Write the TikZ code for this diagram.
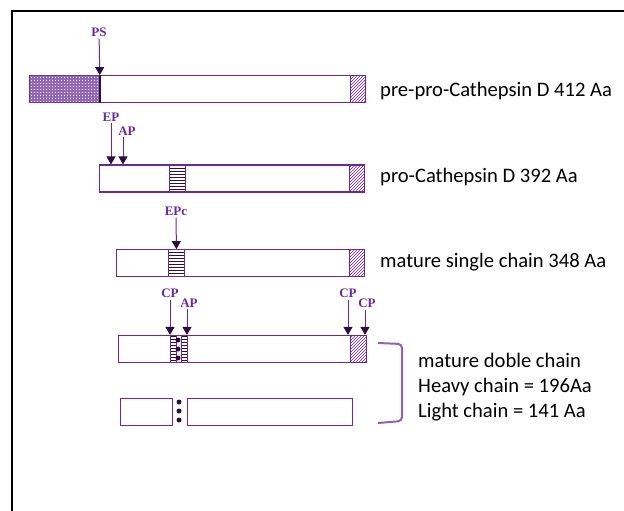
\documentclass[tikz,border=0pt]{standalone}
\usepackage{fontspec}
\usepackage{tikz}
\usetikzlibrary{arrows.meta, positioning, patterns}
\newfontfamily\calfont{Carlito}
\newfontfamily\scanfont{Liberation Serif}
\definecolor{cathviolet}{RGB}{106,38,170}
\definecolor{cathdark}{RGB}{45,12,70}
\definecolor{cathbrace}{RGB}{145,95,195}

\begin{document}
\begin{tikzpicture}[x=1pt, y=-1pt,
  bar/.style={rectangle, draw=cathviolet, line width=1.2pt, minimum height=27pt,
              inner sep=0pt, anchor=west},
  seg/.style={rectangle, draw=cathviolet, line width=0.8pt, minimum height=27pt, inner sep=0pt},
  hatch/.style={seg, anchor=east, minimum width=15pt, pattern=north east lines,
                pattern color=cathviolet},
  stripes/.style={seg, anchor=west, minimum width=16pt, pattern=horizontal lines,
                  pattern color=cathdark},
  dot/.style={circle, fill=cathdark, inner sep=0pt, minimum size=5pt},
  site/.style={font=\scanfont\bfseries\fontsize{13}{14}\selectfont, text=cathviolet,
               inner sep=1pt},
  cut/.style={-{Triangle[width=9pt, length=8pt, color=cathdark]}, draw=cathviolet,
              line width=1pt, shorten <=1pt},
  caption/.style={font=\calfont\fontsize{20.6}{25}\selectfont, anchor=west, inner sep=0pt,
                  align=left}
]
\useasboundingbox (0,0) rectangle (624,511);
% frame
\draw[line width=1.6pt] (12,511) -- (12,11) -- (624,11);

% pre-pro-Cathepsin D
\node[bar, minimum width=336pt] (prepro) at (29,89) {};
\node[seg, anchor=west, minimum width=70pt, fill=cathviolet!70,
      postaction={pattern=crosshatch dots, pattern color=white},
      postaction={pattern=dots, pattern color=black}] (signal) at (prepro.west) {};
\draw[cathdark, line width=1.4pt] (signal.north east) -- (signal.south east);
\node[hatch] (preend) at (prepro.east) {};
\node[site] (ps) at (99,32) {PS};
\draw[cut] (ps) -- (signal.north east);

% pro-Cathepsin D
\node[bar, minimum width=265pt] (pro) at (99,178.5) {};
\node[stripes] (prostrip) at ([xshift=70pt]pro.west) {};
\node[hatch] (proend) at (pro.east) {};
\node[site] (ep) at (111,117) {EP};
\node[site] (ap1) at (127,131) {AP};
\draw[cut] (ep) -- (ep |- pro.north);
\draw[cut] ([xshift=-4pt]ap1.south) -- ([xshift=-4pt]ap1.south |- pro.north);

% mature single chain
\node[bar, minimum width=248pt] (single) at (116,263) {};
\node[stripes] (singstrip) at ([xshift=52pt]single.west) {};
\node[hatch] (singend) at (single.east) {};
\node[site] (epc) at (176,211) {EPc};
\draw[cut] (epc) -- (singstrip.north);

% mature double chain
\node[bar, minimum width=248pt] (double) at (118,349) {};
\node[stripes, minimum width=6pt] (hstrip) at ([xshift=52pt]double.west) {};
\node[stripes, minimum width=6pt] (lstrip) at ([xshift=63pt]double.west) {};
\foreach \y [count=\i] in {340,349,358}
  \node[dot] (link\i) at (178,\y) {};
\node[hatch, minimum width=16pt] (dblend) at (double.east) {};
\node[site] (cp1) at (170,293) {CP};
\node[site] (ap2) at (189,303) {AP};
\node[site] (cp2) at (348,293) {CP};
\node[site] (cp3) at (367,303) {CP};
\draw[cut] (cp1) -- (cp1 |- double.north);
\draw[cut] ([xshift=-2pt]ap2.south) -- ([xshift=-2pt]ap2.south |- double.north);
\draw[cut] (cp2) -- (cp2 |- double.north);
\draw[cut] ([xshift=-2pt]cp3.south) -- ([xshift=-2pt]cp3.south |- double.north);

% light and heavy chain
\node[bar, minimum width=52pt] (light) at (120,412) {};
\node[bar, minimum width=165pt] (heavy) at (187,412) {};
\foreach \y [count=\i] in {402,411,420}
  \node[dot] (bond\i) at (179,\y) {};

% captions
\node[caption] (t1) at (380,91) {pre-pro-Cathepsin D 412 Aa};
\node[caption] (t2) at (380,177) {pro-Cathepsin D 392 Aa};
\node[caption] (t3) at (380,262) {mature single chain 348 Aa};
\node[caption] (t4) at (418,387) {mature doble chain\\Heavy chain = 196Aa\\Light chain = 141 Aa};
\draw[cathbrace, line width=2pt, rounded corners=4pt]
  (378,343) -- (402,344) -- (402,421) -- (378,423);
\end{tikzpicture}
\end{document}
